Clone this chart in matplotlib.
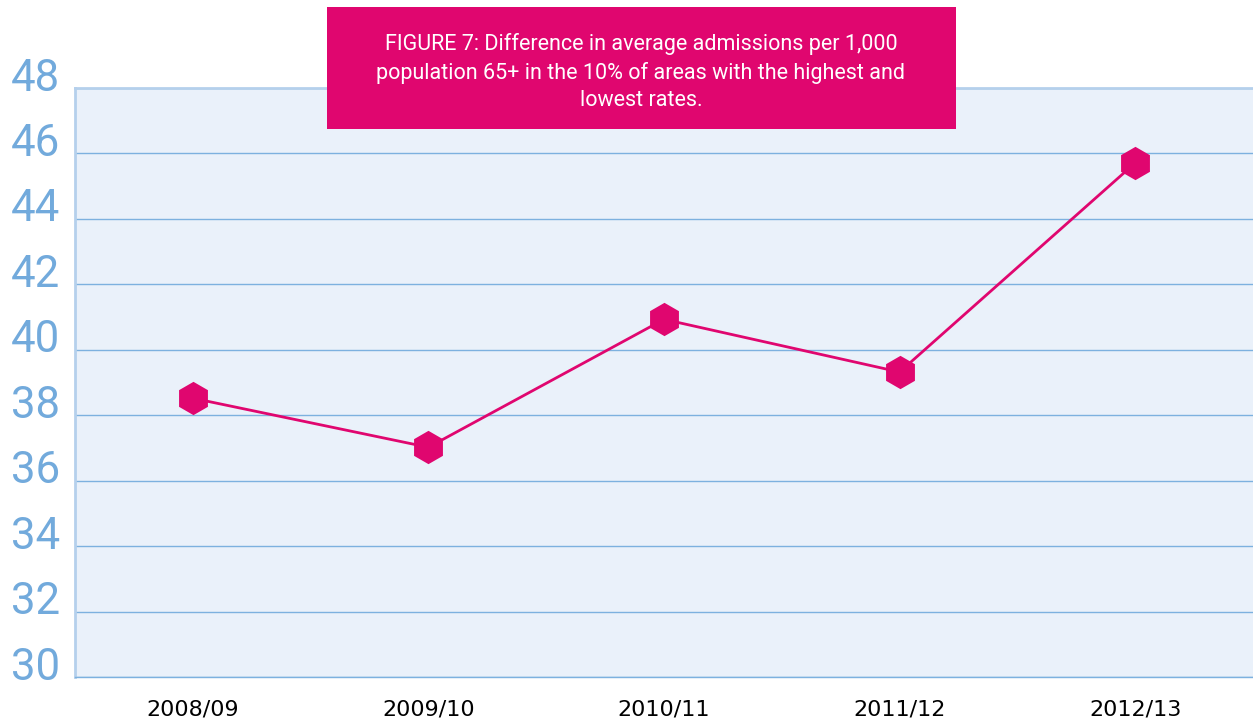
import matplotlib
matplotlib.use("Agg")
from matplotlib import pyplot as plt
from matplotlib.patches import Rectangle
import matplotlib.transforms as mtransforms

anos = ['2008/09', '2009/10', '2010/11', '2011/12', '2012/13']
diferenca = [38.52, 37.02, 40.93, 39.32, 45.71]
y_ticks = [30, 32, 34, 36, 38, 40, 42, 44, 46, 48]

rosa = '#E0066F'
azul = '#7DB1DF'
azul_texto = '#72AADC'
fundo = '#EAF1FA'

plt.rcParams['font.family'] = ['Roboto', 'DejaVu Sans']

fig = plt.figure(figsize=(12.53, 7.25), dpi=100)
ax = fig.add_axes([75 / 1253, 48 / 725, 1 - 75 / 1253, (677 - 88) / 725])
ax.set_facecolor(fundo)

x = list(range(len(anos)))
ax.plot(x, diferenca, color=rosa, lw=2, marker='h', markersize=24,
        markeredgewidth=0, zorder=3)

ax.set_xlim(-0.5, 4.5)
ax.set_ylim(30, 48)
ax.set_yticks(y_ticks)
ax.set_xticks(x)
ax.set_xticklabels(anos, fontsize=16, color='black', family='DejaVu Sans')
ax.tick_params(axis='x', length=0, pad=16)
ax.tick_params(axis='y', length=0, pad=11, labelsize=31.5, labelcolor=azul_texto)

# labels do eixo y ficam um pouco acima das linhas
desloc = mtransforms.ScaledTranslation(0, 14 / 100, fig.dpi_scale_trans)
for lbl in ax.get_yticklabels():
    lbl.set_transform(lbl.get_transform() + desloc)

ax.grid(axis='y', color=azul, lw=1)
ax.set_axisbelow(True)
ax.spines['right'].set_visible(False)
ax.spines['left'].set_color('#B5D0EC')
ax.spines['left'].set_linewidth(2)
ax.spines['top'].set_color('#B5D0EC')
ax.spines['top'].set_linewidth(2)
ax.spines['bottom'].set_color(azul)
ax.spines['bottom'].set_linewidth(1)

caixa = Rectangle((327 / 1253, 1 - 129 / 725), (956 - 327) / 1253, 122 / 725,
                  transform=fig.transFigure, facecolor=rosa, edgecolor='none',
                  zorder=5)
fig.patches.append(caixa)
fig.text(641 / 1253, 1 - 72 / 725,
         "FIGURE 7: Difference in average admissions per 1,000\n"
         "population 65+ in the 10% of areas with the highest and\n"
         "lowest rates.",
         ha='center', va='center', color='white', fontsize=15.5,
         linespacing=1.42, zorder=6)

fig.savefig('out.png', dpi=100)
